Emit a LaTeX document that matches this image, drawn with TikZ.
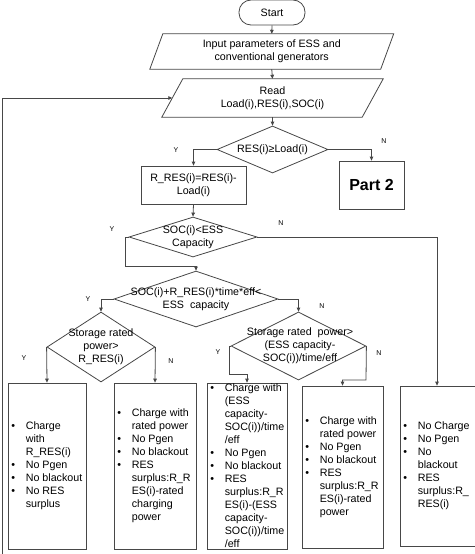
\documentclass[tikz,border=0pt]{standalone}
\usepackage{fontspec}
\setmainfont{Liberation Sans}
\usetikzlibrary{arrows.meta,shapes.geometric}
\newcommand{\bl}[1]{\makebox[14.5pt][l]{\textbullet}#1}
\newcommand{\cl}[1]{\hspace*{14.5pt}#1}
\begin{document}
\begin{tikzpicture}[x=1pt,y=-1pt,
  every node/.style={font=\fontsize{10.7}{13}\selectfont, text=black},
  ln/.style={draw=black!72, line width=0.8pt},
  arr/.style={ln, -{Triangle[length=4pt,width=3.6pt]}},
  term/.style={draw=black!72, line width=0.8pt, rounded corners=12pt, minimum width=66pt, minimum height=25pt, inner sep=0pt},
  parabody/.style={rectangle, inner sep=0pt, align=center},
  dia/.style={draw=black!72, line width=0.8pt, diamond, inner sep=0pt},
  box/.style={draw=black!72, line width=0.8pt, rectangle, inner sep=0pt, align=center},
  txt/.style={inner sep=0pt, align=center},
  lst/.style={inner sep=0pt, align=left, anchor=west},
  yn/.style={inner sep=0pt, font=\fontsize{7}{8}\selectfont}
]
\useasboundingbox (0,0) rectangle (474,554);

% top part
\node[term] (start) at (272,12.5) {Start};
\node[parabody, minimum width=230.5pt, minimum height=35pt] (input) at (271.75,51.5) {Input parameters of ESS and\\conventional generators};
\draw[ln] ([xshift=-6.5pt]input.south west) -- ([xshift=6.5pt]input.north west) -- ([xshift=6.5pt]input.north east) -- ([xshift=-6.5pt]input.south east) -- cycle;
\node[parabody, minimum width=200pt, minimum height=38pt] (read) at (272.5,98) {Read\\Load(i),RES(i),SOC(i)};
\draw[ln] ([xshift=-10.5pt]read.south west) -- ([xshift=10.5pt]read.north west) -- ([xshift=10.5pt]read.north east) -- ([xshift=-10.5pt]read.south east) -- cycle;

\node[dia, minimum width=111pt, minimum height=47pt] (d1) at (272.5,149.5) {};
\node[txt] (d1t) at (d1.center) {RES(i)≥Load(i)};

\node[box, minimum width=105pt, minimum height=38pt] (rres) at (193.5,185) {R\_RES(i)=RES(i)-\\Load(i)};
\node[box, minimum width=65pt, minimum height=48pt, font=\bfseries\fontsize{16}{19}\selectfont] (part2) at (371.5,185) {Part 2};

\node[dia, minimum width=128pt, minimum height=40pt] (d2) at (193,237) {};
\node[txt] (d2t) at (d2.center) {SOC(i)<ESS\\Capacity};

\node[dia, minimum width=164pt, minimum height=56pt] (d3) at (196,299) {};
\node[txt] (d3t) at (d3.center) {SOC(i)+R\_RES(i)*time*eff<\\ESS\ \ capacity};

\node[dia, minimum width=108pt, minimum height=70pt] (d4) at (101,347) {};
\node[txt] (d4t) at (d4.center) {Storage rated\\power>\\R\_RES(i)};

\node[dia, minimum width=135pt, minimum height=68pt] (d5) at (298.5,346) {};
\node[txt] (d5t) at (300,345.5) {Storage rated\ \ power>\\(ESS capacity-\\SOC(i))/time/eff};

% output boxes
\node[box, minimum width=78pt, minimum height=166pt] (b1) at (47,466) {};
\node[lst] (b1t) at ([xshift=3.5pt]b1.west) {\bl{Charge}\\\cl{with}\\\cl{R\_RES(i)}\\\bl{No Pgen}\\\bl{No blackout}\\\bl{No RES}\\\cl{surplus}};

\node[box, minimum width=82pt, minimum height=166pt] (b2) at (155,466) {};
\node[lst] (b2t) at ([xshift=3.5pt]b2.west) {\bl{Charge with}\\\cl{rated power}\\\bl{No Pgen}\\\bl{No blackout}\\\bl{RES}\\\cl{surplus:R\_R}\\\cl{ES(i)-rated}\\\cl{charging}\\\cl{power}};

\node[box, minimum width=80pt, minimum height=166pt] (b3) at (247,466) {};
\node[lst] (b3t) at ([xshift=3.5pt]b3.west) {\bl{Charge with}\\\cl{(ESS}\\\cl{capacity-}\\\cl{SOC(i))/time}\\\cl{/eff}\\\bl{No Pgen}\\\bl{No blackout}\\\bl{RES}\\\cl{surplus:R\_R}\\\cl{ES(i)-(ESS}\\\cl{capacity-}\\\cl{SOC(i))/time}\\\cl{/eff}};

\node[box, minimum width=81pt, minimum height=162pt] (b4) at (342.5,467) {};
\node[lst] (b4t) at ([xshift=3.5pt]b4.west) {\bl{Charge with}\\\cl{rated power}\\\bl{No Pgen}\\\bl{No blackout}\\\bl{RES}\\\cl{surplus:R\_R}\\\cl{ES(i)-rated}\\\cl{power}};

\node[box, minimum width=82pt, minimum height=160pt] (b5) at (441,466) {};
\node[lst] (b5t) at ([xshift=3.5pt]b5.west) {\bl{No Charge}\\\bl{No Pgen}\\\bl{No}\\\cl{blackout}\\\bl{RES}\\\cl{surplus:R\_}\\\cl{RES(i)}};

% helper coordinates
\coordinate (j1) at (125,266);
\coordinate (j2) at (229,374);
\coordinate (j3) at (366,380);
\coordinate (lb) at (2,556);

% connectors
\draw[arr] (start.south) -- (input.north);
\draw[arr] (input.south) -- (read.north);
\draw[arr] (read.south) -- (d1.north);
\draw[arr] (d1.west) -| (rres.north);
\draw[arr] (d1.east) -| (part2.north);
\draw[arr] (rres.south) -- (d2.north);
\draw[arr] (d2.west) -| (j1) -| (d3.north);
\draw[arr] (d2.east) -| ([xshift=-4pt]b5.north);
\draw[arr] (d3.west) -| (d4.north);
\draw[arr] (d3.east) -| (d5.north);
\draw[arr] (d4.west) -- (b1.north);
\draw[arr] (d4.east) -- (b2.north);
\draw[arr] (d5.west) -| (j2) -| (b3.north);
\draw[arr] (d5.east) -- (j3) -| (b4.north);
\draw[arr] (lb) |- (read.west);

% branch labels
\node[yn] (y1) at (176,150) {Y};
\node[yn] (n1) at (384,141) {N};
\node[yn] (y2) at (112,229) {Y};
\node[yn] (n2) at (281,223) {N};
\node[yn] (y3) at (88,299) {Y};
\node[yn] (n3) at (322,306) {N};
\node[yn] (y4) at (24,358) {Y};
\node[yn] (n4) at (171,361) {N};
\node[yn] (y5) at (218,352) {Y};
\node[yn] (n5) at (379,353) {N};
\end{tikzpicture}
\end{document}
